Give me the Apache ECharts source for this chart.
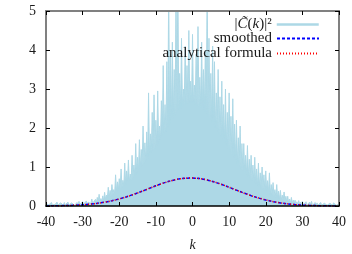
<!DOCTYPE html>
<html><head><meta charset="utf-8">
<script src="https://cdn.jsdelivr.net/npm/echarts@6/dist/echarts.min.js"></script>
<style>html,body{margin:0;padding:0;background:#fff}#c{width:352px;height:254px}</style>
</head><body><div id="c"></div>
<script>
// |C(k)|^2 samples, k from -40 to 40 in steps of 0.25 (spike, dip, spike, dip ...)
const kStart = -40, kStep = 0.25;
const noisy = [
0.06,0.02,0.08,0.03,0.05,0.02,0.09,0.03,
0.07,0.03,0.04,0.02,0.10,0.03,0.06,0.02,
0.08,0.03,0.05,0.02,0.09,0.03,0.07,0.02,
0.10,0.03,0.06,0.02,0.08,0.03,0.11,0.02,
0.07,0.03,0.09,0.02,0.12,0.04,0.06,0.03,
0.11,0.04,0.08,0.05,0.13,0.04,0.10,0.05,
0.14,0.06,0.18,0.07,0.12,0.06,0.17,0.08,
0.22,0.10,0.30,0.12,0.19,0.11,0.26,0.14,
0.35,0.17,0.28,0.19,0.48,0.22,0.40,0.25,
0.55,0.28,0.42,0.32,0.80,0.36,0.62,0.40,
0.70,0.44,0.95,0.48,0.66,0.52,1.10,0.55,
0.90,0.60,1.18,0.62,0.82,0.66,1.30,0.72,
1.05,0.78,1.60,0.82,1.25,0.88,1.70,0.95,
1.45,1.02,2.05,1.08,1.62,1.15,1.90,1.22,
2.90,1.30,1.85,1.36,2.40,1.42,2.85,1.48,
2.20,1.55,2.95,1.60,2.05,1.68,2.70,1.75,
3.60,1.85,2.60,1.92,3.70,2.00,5.60,2.10,
3.90,2.18,4.20,2.25,3.50,2.32,5.50,2.40,
5.80,2.45,3.40,2.50,4.30,2.55,3.00,2.58,
4.10,2.60,3.60,2.62,4.50,2.65,3.20,2.64,
4.40,2.62,3.10,2.60,3.90,2.58,4.60,2.55,
3.30,2.52,4.20,2.48,3.50,2.42,4.00,2.36,
5.60,2.30,4.30,2.22,3.40,2.15,4.10,2.08,
3.70,2.00,2.90,1.92,3.50,1.85,2.80,1.78,
3.20,1.70,2.60,1.62,3.00,1.55,2.40,1.48,
2.90,1.40,2.30,1.32,2.75,1.25,2.10,1.18,
2.20,1.10,1.75,1.02,2.05,0.95,1.60,0.90,
1.60,0.85,1.30,0.80,1.55,0.75,1.20,0.70,
1.30,0.65,1.05,0.60,1.25,0.56,0.95,0.52,
1.10,0.50,0.85,0.46,1.00,0.43,0.80,0.40,
0.90,0.38,0.65,0.34,0.85,0.30,0.55,0.27,
0.60,0.25,0.42,0.22,0.55,0.19,0.38,0.17,
0.40,0.15,0.28,0.13,0.36,0.11,0.25,0.10,
0.25,0.08,0.18,0.07,0.22,0.06,0.15,0.06,
0.15,0.05,0.11,0.04,0.14,0.04,0.10,0.03,
0.12,0.03,0.08,0.02,0.11,0.03,0.07,0.02,
0.10,0.03,0.12,0.02,0.07,0.03,0.09,0.02,
0.08,0.02,0.06,0.03,0.09,0.02,0.05,0.02,
0.07,0.03,0.08,0.02,0.05,0.03,0.07,0.02,
0.06,0.02,0.08,0.03,0.05,0.02,0.07,0.03,
0.05
];
const curveK = [-40,-38,-36,-34,-32,-30,-28,-26,-24,-22,-20,-18,-16,-14,-12,-10,-8,-6,-4,-2,0,2,4,6,8,10,12,14,16,18,20,22,24,26,28,30,32,34,36,38,40];
const smoothed = [0.003,0.005,0.008,0.012,0.020,0.031,0.046,0.068,0.097,0.134,0.181,0.236,0.301,0.371,0.445,0.519,0.587,0.646,0.689,0.713,0.718,0.703,0.668,0.616,0.552,0.480,0.406,0.333,0.265,0.205,0.154,0.112,0.079,0.054,0.036,0.023,0.014,0.009,0.005,0.003,0.002];
const analytical = [0.002,0.004,0.007,0.012,0.019,0.030,0.045,0.067,0.096,0.133,0.180,0.235,0.300,0.370,0.444,0.518,0.586,0.645,0.688,0.714,0.719,0.704,0.669,0.617,0.553,0.481,0.407,0.334,0.266,0.206,0.155,0.113,0.080,0.055,0.037,0.024,0.015,0.009,0.006,0.003,0.002];
const names = ['|C\u0303(k)|\u00b2', 'smoothed', 'analytical formula'];

const FONT = 'Liberation Serif';
const TXT = '#1a1a1a';
const chart = echarts.init(document.getElementById('c'), null, {renderer: 'canvas'});

function legendFor(name, top, extra) {
  return Object.assign({
    data: [name], right: 32, top: top, padding: 0, align: 'right',
    itemWidth: 42, itemHeight: 12, selectedMode: false,
    itemStyle: {opacity: 0, color: 'rgba(0,0,0,0)', borderWidth: 0},
    textStyle: {fontFamily: FONT, fontSize: 15, color: TXT,
      rich: {n: {fontFamily: FONT, fontSize: 15, color: TXT},
             i: {fontFamily: FONT, fontSize: 15, color: TXT, fontStyle: 'italic'}}}
  }, extra || {});
}

chart.setOption({
  animation: false,
  grid: {left: 46, right: 13, top: 11, bottom: 48, containLabel: false, outerBoundsMode: 'none'},
  legend: [
    legendFor(names[0], 17, {formatter: () => '{n||}{i|C\u0303}{n|(}{i|k}{n|)|\u00b2}', lineStyle: {width: 2.5}}),
    legendFor(names[1], 31),
    legendFor(names[2], 46)
  ],
  xAxis: [
    {type: 'value', min: -40, max: 40, interval: 10, position: 'bottom', z: 10,
     axisLine: {show: true, onZero: false, lineStyle: {color: '#000', width: 1.5}},
     axisTick: {show: true, inside: true, length: 4, lineStyle: {color: '#000'}},
     axisLabel: {margin: 9, color: TXT, fontFamily: FONT, fontSize: 14},
     splitLine: {show: false},
     name: 'k', nameLocation: 'middle', nameGap: 32,
     nameTextStyle: {fontFamily: FONT, fontSize: 14, fontStyle: 'italic', color: TXT}},
    {type: 'value', min: -40, max: 40, interval: 10, position: 'top', z: 10,
     axisLine: {show: true, onZero: false, lineStyle: {color: '#808080', width: 2}},
     axisTick: {show: true, inside: true, length: 4, lineStyle: {color: '#000'}},
     axisLabel: {show: false}, splitLine: {show: false}}
  ],
  yAxis: [
    {type: 'value', min: 0, max: 5, interval: 1, position: 'left', z: 10,
     axisLine: {show: true, onZero: false, lineStyle: {color: '#808080', width: 2}},
     axisTick: {show: true, inside: true, length: 4, lineStyle: {color: '#000'}},
     axisLabel: {margin: 10, color: TXT, fontFamily: FONT, fontSize: 14},
     splitLine: {show: false}},
    {type: 'value', min: 0, max: 5, interval: 1, position: 'right', z: 10,
     axisLine: {show: true, onZero: false, lineStyle: {color: '#808080', width: 2}},
     axisTick: {show: true, inside: true, length: 4, lineStyle: {color: '#000'}},
     axisLabel: {show: false}, splitLine: {show: false}}
  ],
  series: [
    {name: names[0], type: 'line', symbol: 'none', clip: true,
     lineStyle: {color: '#add8e6', width: 1}, itemStyle: {color: '#add8e6'},
     areaStyle: {color: '#add8e6', opacity: 1},
     data: noisy.map((v, i) => [kStart + i * kStep, v])},
    {name: names[1], type: 'line', symbol: 'none',
     lineStyle: {color: '#0000ff', width: 1.5, type: [3, 2]}, itemStyle: {color: '#0000ff'},
     data: curveK.map((k, i) => [k, smoothed[i]])},
    {name: names[2], type: 'line', symbol: 'none',
     lineStyle: {color: '#ff0000', width: 1.5, type: [1, 2]}, itemStyle: {color: '#ff0000'},
     data: curveK.map((k, i) => [k, analytical[i]])}
  ]
});
</script></body></html>
